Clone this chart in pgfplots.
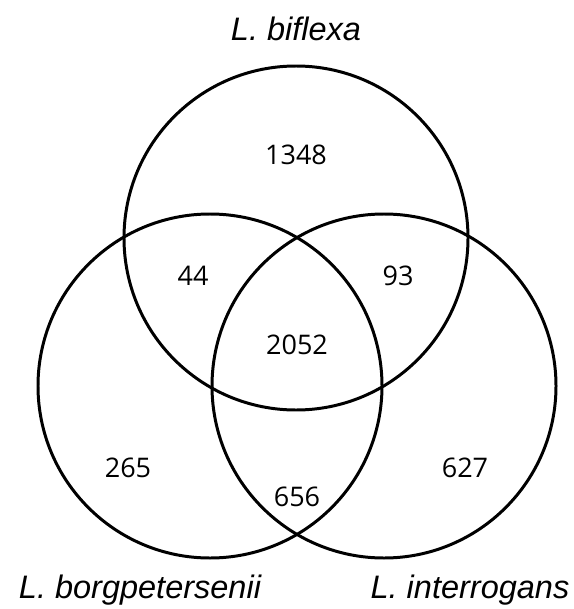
\documentclass[border=0pt]{standalone}
\usepackage{pgfplots}
\pgfplotsset{compat=1.18}
\usepackage{fontspec}
\setmainfont{Liberation Sans}
\newfontfamily\numfont{Open Sans}
\begin{document}
\begin{tikzpicture}
\begin{axis}[
  width=574bp, height=609bp, scale only axis,
  xmin=0, xmax=574, ymin=0, ymax=609, y dir=reverse,
  hide axis, clip=false]
\draw[line width=3pt] (axis cs:296,238) circle[radius=172];
\draw[line width=3pt] (axis cs:210,386) circle[radius=172];
\draw[line width=3pt] (axis cs:384,386) circle[radius=172];
\addplot[draw=none, nodes near coords, point meta=explicit symbolic,
  nodes near coords style={anchor=center, font=\numfont\fontsize{27bp}{27bp}\selectfont}]
  table[meta=label] {
x y label
296 155 1348
193 276 44
398 276 93
297 345 2052
128 468 265
465 468 627
297 497 656
};
\node[font=\fontsize{32.5bp}{32.5bp}\selectfont\itshape] at (axis cs:296,29) {L. biflexa};
\node[font=\fontsize{32.5bp}{32.5bp}\selectfont\itshape] at (axis cs:140,590) {L. borgpetersenii};
\node[font=\fontsize{32.5bp}{32.5bp}\selectfont\itshape] at (axis cs:470,590) {L. interrogans};
\end{axis}
\path (current axis.south west) rectangle (current axis.north east);
\end{tikzpicture}
\end{document}
